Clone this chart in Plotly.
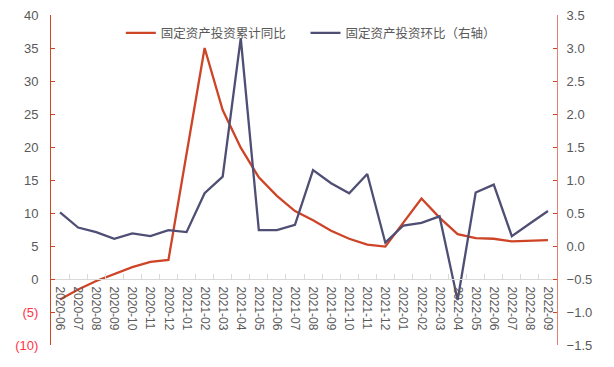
import plotly.graph_objects as go

months = ["2020-06","2020-07","2020-08","2020-09","2020-10","2020-11","2020-12",
          "2021-01","2021-02","2021-03","2021-04","2021-05","2021-06","2021-07",
          "2021-08","2021-09","2021-10","2021-11","2021-12","2022-01","2022-02",
          "2022-03","2022-04","2022-05","2022-06","2022-07","2022-08","2022-09"]

# 固定资产投资累计同比 (%), left axis; Jan values not published
yoy_cum = [-3.1, -1.6, -0.3, 0.8, 1.8, 2.6, 2.9,
           None, 35.0, 25.6, 19.9, 15.4, 12.6, 10.3,
           8.9, 7.3, 6.1, 5.2, 4.9, None, 12.2,
           9.3, 6.8, 6.2, 6.1, 5.7, 5.8, 5.9]

# 固定资产投资环比 (%), right axis
mom = [0.51, 0.28, 0.21, 0.11, 0.19, 0.15, 0.24,
       0.21, 0.80, 1.05, 3.15, 0.24, 0.24, 0.32,
       1.15, 0.95, 0.80, 1.09, 0.05, 0.31, 0.35,
       0.45, -0.82, 0.81, 0.93, 0.15, 0.34, 0.53]

left_ticks = [-10, -5, 0, 5, 10, 15, 20, 25, 30, 35, 40]
left_text = ['<span style="color:#FF3344">(10)</span>',
             '<span style="color:#FF3344">(5)</span>',
             "0", "5", "10", "15", "20", "25", "30", "35", "40"]

RED = "#CD4427"
NAVY = "#4F4E74"
GREY = "#595959"

fig = go.Figure()
fig.add_trace(go.Scatter(x=months, y=yoy_cum, name="固定资产投资累计同比",
                         mode="lines", connectgaps=True, legend="legend",
                         line=dict(color=RED, width=2.3), yaxis="y"))
fig.add_trace(go.Scatter(x=months, y=mom, name="固定资产投资环比（右轴）",
                         mode="lines", legend="legend2",
                         line=dict(color=NAVY, width=2.3), yaxis="y2"))

legend_font = dict(size=12.5, color=GREY, family="Noto Sans CJK SC, sans-serif")

fig.update_layout(
    width=614, height=367,
    margin=dict(l=51, r=57, t=15, b=22),
    plot_bgcolor="white", paper_bgcolor="white",
    font=dict(family="Liberation Sans, Arial, sans-serif", size=12, color=GREY),
    showlegend=True,
    legend=dict(x=0.138, y=0.99, xanchor="left", yanchor="top",
                font=legend_font, bgcolor="rgba(0,0,0,0)", itemwidth=30),
    legend2=dict(x=0.503, y=0.99, xanchor="left", yanchor="top",
                 font=legend_font, bgcolor="rgba(0,0,0,0)", itemwidth=30),
    xaxis=dict(type="category", categoryorder="array", categoryarray=months,
               range=[-0.5, len(months) - 0.5], automargin=False,
               anchor="free", position=0.2,
               showline=True, linecolor="#D9D9D9", linewidth=1,
               ticks="inside", tickson="boundaries", ticklen=5, tickcolor="#D9D9D9",
               tickangle=90, tickfont=dict(size=12, color=GREY),
               ticklabelstandoff=4,
               showgrid=False, zeroline=False),
    yaxis=dict(range=[-10, 40], tickvals=left_ticks, ticktext=left_text,
               automargin=False, ticklabelstandoff=9,
               showline=True, linecolor=RED, linewidth=1,
               ticks="inside", ticklen=4, tickcolor=RED,
               showgrid=False, zeroline=False,
               tickfont=dict(size=13, color=GREY)),
    yaxis2=dict(range=[-1.5, 3.5], tick0=-1.5, dtick=0.5, tickformat=".1f",
                overlaying="y", side="right", automargin=False,
                ticklabelstandoff=6,
                showline=True, linecolor="#E57F72", linewidth=1,
                ticks="inside", ticklen=4, tickcolor=RED,
                showgrid=False, zeroline=False,
                tickfont=dict(size=13, color=GREY)),
)

fig.write_html("out.html", config={"displayModeBar": False},
               post_script="document.body.style.margin='0';")
